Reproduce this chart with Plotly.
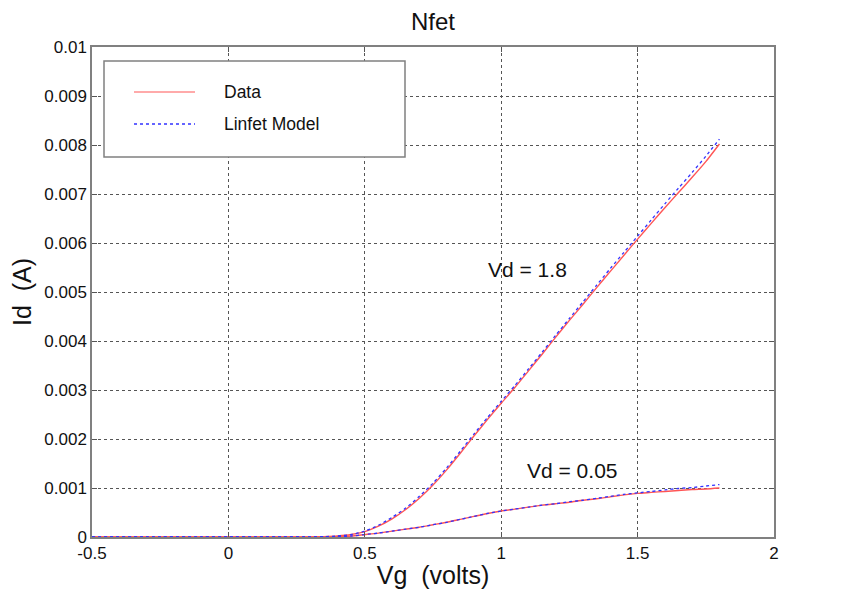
import plotly.graph_objects as go

# ---- data ----
vg = [-0.5, -0.3, -0.1, 0.0, 0.1, 0.2, 0.3, 0.35, 0.4, 0.45, 0.5, 0.55, 0.6, 0.65, 0.7,
      0.75, 0.8, 0.85, 0.9, 0.95, 1.0, 1.05, 1.1, 1.15, 1.2, 1.25, 1.3, 1.35, 1.4, 1.45,
      1.5, 1.55, 1.6, 1.65, 1.7, 1.75, 1.8]

data_vd18 = [0, 0, 0, 0, 0, 0, 0.000003, 0.000008, 0.00002, 0.00005, 0.00011, 0.00022,
             0.00037, 0.00056, 0.00079, 0.00106, 0.00137, 0.00171, 0.00206, 0.0024, 0.00273,
             0.00305, 0.00339, 0.00373, 0.00408, 0.00442, 0.00475, 0.00509, 0.00542,
             0.00575, 0.00608, 0.0064, 0.00672, 0.00703, 0.00734, 0.00766, 0.00802]

model_vd18 = [0, 0, 0, 0, 0, 0, 0.000002, 0.000007, 0.00002, 0.00005, 0.00012, 0.00024,
              0.0004, 0.00059, 0.00083, 0.0011, 0.00141, 0.00175, 0.0021, 0.00244,
              0.00277, 0.00309, 0.00343, 0.00377, 0.00412, 0.00446, 0.0048, 0.00514,
              0.00548, 0.00581, 0.00614, 0.00647, 0.0068, 0.00712, 0.00744, 0.00777, 0.00812]

data_vd005 = [0, 0, 0, 0, 0, 0, 0.000001, 0.000003, 0.000008, 0.00002, 0.00005, 0.00008,
              0.00012, 0.00016, 0.0002, 0.00025, 0.0003, 0.00036, 0.00042, 0.00048, 0.00053,
              0.00057, 0.00061, 0.00065, 0.00068, 0.00071, 0.00075, 0.00078, 0.00082,
              0.00086, 0.00089, 0.00091, 0.00093, 0.00095, 0.00097, 0.00098, 0.001]

model_vd005 = [0, 0, 0, 0, 0, 0, 0.000001, 0.000003, 0.000008, 0.00002, 0.00005, 0.00008,
               0.00012, 0.00016, 0.0002, 0.00025, 0.0003, 0.00036, 0.00042, 0.00048, 0.00053,
               0.00057, 0.00061, 0.00065, 0.00068, 0.00072, 0.00075, 0.00079, 0.00083,
               0.00087, 0.0009, 0.00093, 0.00096, 0.00099, 0.00101, 0.00104, 0.00107]

x_tickvals = [-0.5, 0, 0.5, 1, 1.5, 2]
x_ticktext = ["-0.5", "0", "0.5", "1", "1.5", "2"]
y_tickvals = [0, 0.001, 0.002, 0.003, 0.004, 0.005, 0.006, 0.007, 0.008, 0.009, 0.01]
y_ticktext = ["0", "0.001", "0.002", "0.003", "0.004", "0.005", "0.006", "0.007",
              "0.008", "0.009", "0.01"]

series_names = ["Data", "Linfet Model"]
curve_labels = ["Vd = 1.8", "Vd = 0.05"]
label_pos = [(0.944, 0.00545), (1.087, 0.00136)]

RED = "rgb(255,85,85)"
BLUE = "rgb(50,50,255)"
FONT = "Liberation Sans, Arial, sans-serif"
TXT = "#111111"

fig = go.Figure()
for ys in (data_vd18, data_vd005):
    fig.add_trace(go.Scatter(x=vg, y=ys, mode="lines", name=series_names[0],
                             line=dict(color=RED, width=1.4, shape="spline", smoothing=0.6),
                             showlegend=False))
for ys in (model_vd18, model_vd005):
    fig.add_trace(go.Scatter(x=vg, y=ys, mode="lines", name=series_names[1],
                             line=dict(color=BLUE, width=1.3, dash="dot", shape="spline", smoothing=0.6),
                             showlegend=False))

axis_common = dict(
    showline=True, linecolor="#808080", linewidth=1.5, mirror="ticks",
    ticks="inside", ticklen=5, tickcolor="#555555", tickwidth=1,
    showgrid=True, gridcolor="#555555", gridwidth=1, griddash="dot",
    zeroline=False, tickfont=dict(family=FONT, size=17, color=TXT), automargin=False,
)

fig.update_xaxes(range=[-0.5, 2], tickvals=x_tickvals, ticktext=x_ticktext,
                 title=dict(text="Vg\u00a0\u00a0(volts)", font=dict(family=FONT, size=25, color=TXT),
                            standoff=4),
                 **axis_common)
fig.update_yaxes(range=[0, 0.01], tickvals=y_tickvals, ticktext=y_ticktext,
                 title=dict(text="Id\u00a0\u00a0(A)", font=dict(family=FONT, size=25, color=TXT),
                            standoff=6),
                 **axis_common)

# curve labels
for txt, (lx, ly) in zip(curve_labels, label_pos):
    fig.add_annotation(x=lx, y=ly, text=txt, showarrow=False, xanchor="left", yanchor="middle",
                       font=dict(family=FONT, size=21, color=TXT))

# manual legend box (paper coords)
W, H = 682.0, 490.0
def px(x):
    return (x - 92) / W
def py(y):
    return (537 - y) / H

fig.add_shape(type="rect", xref="paper", yref="paper", x0=px(104), x1=px(405), y0=py(157), y1=py(61),
              line=dict(color="#808080", width=1.5), fillcolor="white", layer="above")
fig.add_shape(type="line", xref="paper", yref="paper", x0=px(134), x1=px(195), y0=py(92), y1=py(92),
              line=dict(color="rgb(255,170,170)", width=2), layer="above")
fig.add_shape(type="line", xref="paper", yref="paper", x0=px(134), x1=px(195), y0=py(124), y1=py(124),
              line=dict(color=BLUE, width=1.3, dash="dot"), layer="above")
for name, yy in zip(series_names, (92, 124)):
    fig.add_annotation(xref="paper", yref="paper", x=px(222), y=py(yy), text=name, showarrow=False,
                       xanchor="left", yanchor="middle", font=dict(family=FONT, size=17.5, color=TXT))

fig.update_layout(
    width=853, height=591,
    margin=dict(l=92, r=79, t=47, b=54),
    paper_bgcolor="white", plot_bgcolor="white",
    title=dict(text="Nfet", x=0.5, xanchor="center", xref="paper", y=1 - 22 / 591, yanchor="middle",
               font=dict(family=FONT, size=24, color=TXT)),
    showlegend=False,
)

fig.write_html("out.html")
